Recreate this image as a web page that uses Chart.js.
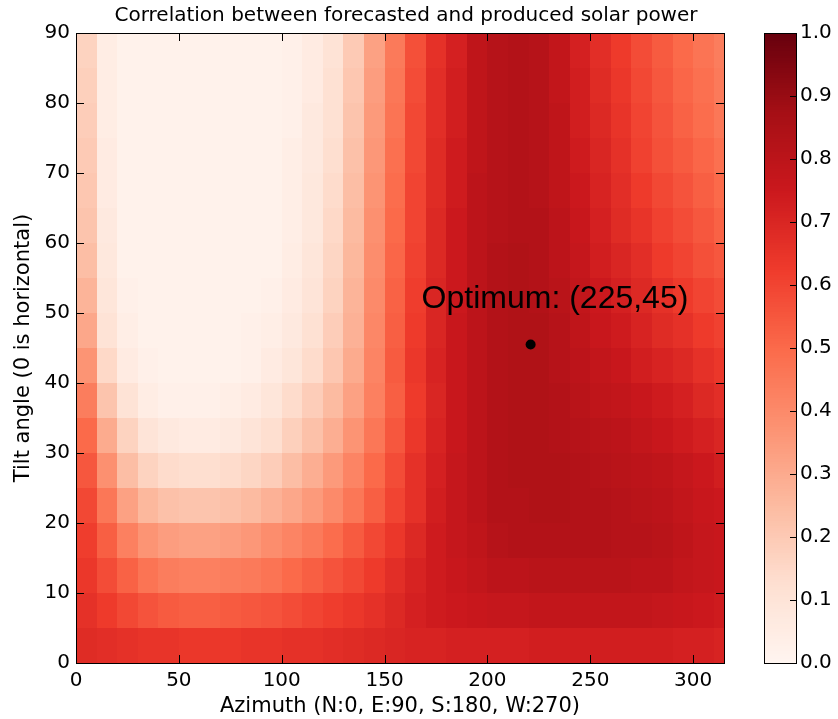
<!DOCTYPE html>
<html>
<head>
<meta charset="utf-8">
<script src="https://cdn.jsdelivr.net/npm/chart.js@4.4.1/dist/chart.umd.min.js"></script>
<style>
  html, body { margin: 0; padding: 0; background: #fff; }
  #wrap { width: 838px; height: 719px; }
</style>
</head>
<body>
<div id="wrap"><canvas id="heat"></canvas></div>
<script>
// Grille azimut / inclinaison (bords des cellules)
const azimuthEdges = [0, 10, 20, 30, 40, 50, 60, 70, 80, 90, 100, 110, 120, 130, 140, 150, 160,
  170, 180, 190, 200, 210, 220, 230, 240, 250, 260, 270, 280, 290, 300, 310, 315];
const tiltEdges = [90, 85, 80, 75, 70, 65, 60, 55, 50, 45, 40, 35, 30, 25, 20, 15, 10, 5, 0];

// Correlation, une ligne par bande d'inclinaison (du haut vers le bas)
const correlation = [
  [.17,.05,.02,.02,.02,.02,.02,.02,.02,.02,.03,.06,.11,.20,.33,.45,.57,.66,.72,.79,.82,.83,.82,.78,.72,.67,.63,.58,.54,.50,.47,.44], // 85-90
  [.18,.05,.02,.02,.02,.02,.02,.02,.02,.02,.03,.06,.12,.21,.34,.46,.58,.67,.73,.79,.82,.83,.82,.78,.73,.68,.64,.59,.55,.51,.48,.45], // 80-85
  [.19,.05,.02,.02,.02,.02,.02,.02,.02,.02,.03,.07,.12,.22,.35,.47,.59,.67,.73,.79,.82,.83,.82,.79,.73,.69,.65,.60,.56,.52,.49,.46], // 75-80
  [.20,.06,.02,.02,.02,.02,.02,.02,.02,.02,.04,.07,.13,.23,.36,.48,.59,.68,.74,.79,.82,.83,.82,.79,.74,.70,.66,.61,.57,.54,.51,.48], // 70-75
  [.21,.06,.02,.02,.02,.02,.02,.02,.02,.02,.04,.08,.14,.24,.37,.49,.60,.68,.74,.80,.82,.83,.82,.79,.75,.71,.67,.63,.59,.56,.53,.50], // 65-70
  [.22,.07,.02,.02,.02,.02,.02,.02,.02,.02,.04,.08,.15,.25,.38,.50,.60,.69,.75,.80,.82,.83,.83,.80,.76,.72,.68,.65,.61,.58,.55,.52], // 60-65
  [.24,.08,.02,.02,.02,.02,.02,.02,.02,.02,.05,.09,.16,.26,.39,.51,.61,.69,.75,.80,.83,.84,.83,.80,.77,.73,.70,.67,.63,.60,.57,.55], // 55-60
  [.27,.09,.03,.02,.02,.02,.02,.02,.02,.03,.06,.10,.17,.27,.40,.52,.62,.70,.75,.80,.83,.84,.83,.81,.78,.75,.72,.69,.66,.63,.60,.58], // 50-55
  [.31,.11,.04,.02,.02,.02,.02,.02,.03,.04,.07,.12,.19,.28,.41,.53,.63,.70,.76,.80,.83,.84,.84,.82,.79,.76,.74,.71,.68,.66,.63,.61], // 45-50
  [.37,.15,.06,.03,.02,.02,.02,.02,.03,.06,.09,.14,.21,.30,.42,.54,.64,.71,.76,.80,.83,.84,.84,.82,.80,.78,.76,.73,.71,.69,.66,.64], // 40-45
  [.44,.22,.11,.05,.03,.03,.03,.04,.06,.09,.14,.19,.25,.33,.43,.53,.63,.70,.76,.80,.83,.84,.84,.83,.81,.79,.78,.76,.74,.72,.69,.67], // 35-40
  [.50,.30,.17,.10,.07,.06,.06,.07,.10,.13,.18,.23,.29,.37,.46,.55,.64,.71,.76,.80,.83,.84,.84,.83,.82,.81,.80,.78,.76,.74,.72,.70], // 30-35
  [.55,.38,.24,.17,.14,.13,.13,.14,.16,.19,.24,.29,.35,.42,.50,.58,.66,.72,.77,.80,.83,.84,.84,.84,.83,.82,.81,.80,.79,.77,.75,.73], // 25-30
  [.59,.46,.33,.26,.23,.22,.22,.23,.25,.28,.31,.35,.40,.46,.53,.60,.66,.73,.77,.80,.83,.83,.84,.84,.83,.83,.82,.81,.80,.78,.76,.75], // 20-25
  [.62,.53,.43,.37,.34,.33,.33,.34,.36,.39,.42,.45,.49,.54,.59,.64,.69,.74,.77,.79,.82,.83,.83,.83,.83,.83,.82,.82,.81,.79,.77,.76], // 15-20
  [.64,.58,.52,.47,.44,.43,.43,.44,.45,.47,.50,.53,.56,.59,.63,.67,.71,.74,.76,.78,.80,.80,.81,.81,.81,.81,.81,.80,.80,.78,.77,.76], // 10-15
  [.66,.63,.59,.56,.54,.53,.53,.54,.55,.56,.58,.60,.62,.64,.66,.69,.72,.74,.75,.76,.77,.77,.78,.78,.78,.78,.78,.78,.77,.76,.75,.74], // 5-10
  [.68,.67,.66,.65,.65,.64,.64,.64,.65,.65,.66,.66,.67,.68,.69,.70,.71,.71,.72,.72,.72,.72,.73,.73,.73,.73,.73,.73,.73,.72,.72,.71]  // 0-5
];

const optimum = { x: 221, y: 45.5 };
const optimumLabel = 'Optimum: (225,45)';
const labelPos = { x: 168, y: 52 };

const xTicks = [0, 50, 100, 150, 200, 250, 300];
const yTicks = [0, 10, 20, 30, 40, 50, 60, 70, 80, 90];
const cbTicks = [0, 0.1, 0.2, 0.3, 0.4, 0.5, 0.6, 0.7, 0.8, 0.9, 1.0];

// Palette "Reds" de matplotlib
const redsStops = [
  [255,245,240],[254,224,210],[252,187,161],[252,146,114],[251,106,74],
  [239,59,44],[203,24,29],[165,15,21],[103,0,13]
];
function reds(v) {
  v = Math.max(0, Math.min(1, v));
  const p = v * (redsStops.length - 1);
  const i = Math.min(Math.floor(p), redsStops.length - 2);
  const t = p - i;
  const a = redsStops[i], b = redsStops[i + 1];
  const c = a.map((ch, k) => Math.round(ch + (b[k] - ch) * t));
  return `rgb(${c[0]},${c[1]},${c[2]})`;
}

const FONT = 'DejaVu Sans';

const heatmapPlugin = {
  id: 'heatmap',
  beforeDatasetsDraw(chart) {
    const { ctx, scales: { x, y } } = chart;
    ctx.save();
    correlation.forEach((row, r) => {
      const y0 = Math.round(y.getPixelForValue(tiltEdges[r]));
      const y1 = Math.round(y.getPixelForValue(tiltEdges[r + 1]));
      row.forEach((v, c) => {
        const x0 = Math.round(x.getPixelForValue(azimuthEdges[c]));
        const x1 = Math.round(x.getPixelForValue(azimuthEdges[c + 1]));
        ctx.fillStyle = reds(v);
        ctx.fillRect(x0, y0, x1 - x0, y1 - y0);
      });
    });
    ctx.restore();
  },
  afterDatasetsDraw(chart) {
    const { ctx, chartArea: a, scales: { x, y, cb } } = chart;
    ctx.save();

    // texte de l'optimum
    ctx.fillStyle = '#000';
    ctx.font = '32px "Liberation Sans", Arial, sans-serif';
    ctx.textAlign = 'left';
    ctx.textBaseline = 'middle';
    ctx.fillText(optimumLabel, x.getPixelForValue(labelPos.x), y.getPixelForValue(labelPos.y));

    // cadre + graduations internes
    ctx.strokeStyle = '#000';
    ctx.lineWidth = 1;
    ctx.beginPath();
    xTicks.forEach(v => {
      const px = Math.round(x.getPixelForValue(v)) + 0.5;
      ctx.moveTo(px, a.bottom); ctx.lineTo(px, a.bottom - 8);
      ctx.moveTo(px, a.top); ctx.lineTo(px, a.top + 8);
    });
    yTicks.forEach(v => {
      const py = Math.round(y.getPixelForValue(v)) + 0.5;
      ctx.moveTo(a.left, py); ctx.lineTo(a.left + 8, py);
      ctx.moveTo(a.right, py); ctx.lineTo(a.right - 8, py);
    });
    ctx.stroke();
    ctx.strokeRect(Math.round(a.left) + 0.5, Math.round(a.top) + 0.5,
      Math.round(a.right - a.left), Math.round(a.bottom - a.top));

    // barre de couleur
    const bx = Math.round(cb.left + 40), bw = 32;
    const top = cb.getPixelForValue(1), bot = cb.getPixelForValue(0);
    const steps = 256;
    for (let i = 0; i < steps; i++) {
      const y0 = bot - (bot - top) * (i + 1) / steps;
      const y1 = bot - (bot - top) * i / steps;
      ctx.fillStyle = reds((i + 0.5) / steps);
      ctx.fillRect(bx, Math.floor(y0), bw, Math.ceil(y1) - Math.floor(y0));
    }
    ctx.beginPath();
    cbTicks.forEach(v => {
      const py = Math.round(cb.getPixelForValue(v)) + 0.5;
      ctx.moveTo(bx + bw, py); ctx.lineTo(bx + bw - 6, py);
    });
    ctx.stroke();
    ctx.strokeRect(bx + 0.5, Math.round(top) + 0.5, bw, Math.round(bot - top));

    // titre
    ctx.fillStyle = '#000';
    ctx.font = `20px "${FONT}"`;
    ctx.textAlign = 'center';
    ctx.textBaseline = 'middle';
    ctx.fillText('Correlation between forecasted and produced solar power', (a.left + a.right) / 2 + 6, 16);
    ctx.restore();
  }
};

new Chart(document.getElementById('heat'), {
  type: 'scatter',
  data: {
    datasets: [{
      data: [optimum],
      pointRadius: 5,
      pointBackgroundColor: '#000',
      pointBorderColor: '#000',
      pointBorderWidth: 0
    }]
  },
  plugins: [heatmapPlugin],
  options: {
    responsive: true,
    maintainAspectRatio: false,
    animation: false,
    layout: { padding: { top: 33, left: 0, right: 0, bottom: 0 } },
    plugins: {
      legend: { display: false },
      tooltip: { enabled: false },
      title: { display: false }
    },
    scales: {
      x: {
        type: 'linear', min: 0, max: 315, position: 'bottom',
        grid: { display: false, drawTicks: false },
        border: { display: false },
        afterBuildTicks: s => { s.ticks = xTicks.map(v => ({ value: v })); },
        afterFit: s => { s.height = 56; },
        ticks: { padding: 6, color: '#000', font: { family: FONT, size: 20 } },
        title: {
          display: true, text: 'Azimuth (N:0, E:90, S:180, W:270)', color: '#000',
          font: { family: FONT, size: 21 }, padding: { top: 0, bottom: 0 }
        }
      },
      y: {
        type: 'linear', min: 0, max: 90, position: 'left',
        grid: { display: false, drawTicks: false },
        border: { display: false },
        afterBuildTicks: s => { s.ticks = yTicks.map(v => ({ value: v })); },
        afterFit: s => { s.width = 76; },
        ticks: { padding: 6, color: '#000', font: { family: FONT, size: 20 } },
        title: {
          display: true, text: 'Tilt angle (0 is horizontal)', color: '#000',
          font: { family: FONT, size: 21 }, padding: { top: 11, bottom: 0 }
        }
      },
      cb: {
        type: 'linear', axis: 'y', min: 0, max: 1, position: 'right',
        grid: { display: false, drawTicks: true, tickLength: 70 },
        border: { display: false },
        afterBuildTicks: s => { s.ticks = cbTicks.map(v => ({ value: v })); },
        afterFit: s => { s.width = 114; },
        ticks: {
          padding: 6, color: '#000', font: { family: FONT, size: 20 },
          callback: v => v.toFixed(1)
        }
      }
    }
  }
});
</script>
</body>
</html>
